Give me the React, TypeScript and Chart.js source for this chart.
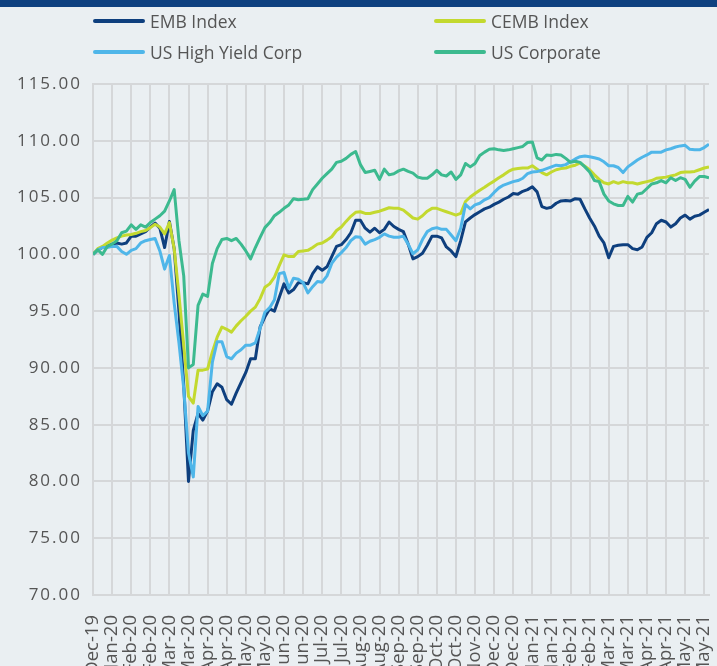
import React, { useEffect, useRef } from "react";
import { Chart, registerables } from "chart.js";

Chart.register(...registerables);

// Tick labels on the x axis (one every ~2 weeks)
const tickLabels = [
  "Dec-19", "Jan-20", "Feb-20", "Feb-20", "Mar-20", "Mar-20", "Apr-20", "Apr-20",
  "May-20", "May-20", "Jun-20", "Jun-20", "Jul-20", "Jul-20", "Aug-20", "Aug-20",
  "Sep-20", "Sep-20", "Oct-20", "Oct-20", "Nov-20", "Dec-20", "Dec-20", "Jan-21",
  "Jan-21", "Feb-21", "Feb-21", "Mar-21", "Mar-21", "Apr-21", "Apr-21", "May-21", "May-21",
];

// number of data points between two tick labels
const POINTS_PER_TICK = 4;

const embIndex = [
  100.0, 100.4, 100.6, 100.7, 100.9, 101.0, 100.9, 101.0, 101.6, 101.6,
  101.8, 102.0, 102.4, 102.75, 102.3, 100.6, 102.9, 100.5, 95.0, 88.5,
  80.0, 84.5, 86.0, 85.4, 86.2, 87.9, 88.6, 88.3, 87.2, 86.8,
  87.8, 88.7, 89.6, 90.8, 90.8, 93.6, 94.5, 95.2, 95.0, 96.2,
  97.4, 96.6, 96.9, 97.5, 97.5, 97.4, 98.3, 98.9, 98.6, 98.9,
  99.8, 100.7, 100.85, 101.3, 101.9, 103.0, 103.0, 102.3, 101.95, 102.3,
  101.9, 102.2, 102.85, 102.45, 102.2, 102.0, 100.9, 99.6, 99.8, 100.1,
  100.8, 101.6, 101.6, 101.45, 100.65, 100.3, 99.8, 101.2, 102.85, 103.2,
  103.5, 103.75, 104.0, 104.15, 104.4, 104.6, 104.85, 105.05, 105.35, 105.3,
  105.55, 105.7, 105.95, 105.5, 104.2, 104.05, 104.15, 104.5, 104.7, 104.75,
  104.7, 104.9, 104.85, 104.0, 103.2, 102.5, 101.6, 101.0, 99.7, 100.7,
  100.8, 100.85, 100.85, 100.5, 100.4, 100.65, 101.5, 101.9, 102.7, 103.0,
  102.85, 102.4, 102.7, 103.2, 103.45, 103.1, 103.35, 103.45, 103.7, 103.95,
];

const cembIndex = [
  100.0, 100.5, 100.7, 101.0, 101.25, 101.45, 101.6, 101.7, 101.75, 101.85,
  102.0, 102.1, 102.35, 102.65, 102.4, 101.8, 102.8, 100.5, 96.4, 92.0,
  87.5, 86.9, 89.8, 89.8, 89.9, 91.4, 92.7, 93.6, 93.4, 93.15,
  93.7, 94.15, 94.55, 95.0, 95.35, 96.1, 97.1, 97.4, 98.0, 99.0,
  99.95, 99.8, 99.8, 100.25, 100.3, 100.35, 100.6, 100.9, 101.0, 101.25,
  101.55, 102.1, 102.4, 102.9, 103.35, 103.7, 103.75, 103.6, 103.6, 103.7,
  103.8, 103.95, 104.1, 104.05, 104.05, 103.9, 103.55, 103.2, 103.1, 103.4,
  103.8, 104.05, 104.05, 103.9, 103.75, 103.6, 103.45, 103.6, 104.65, 105.05,
  105.35, 105.65, 105.9, 106.2, 106.45, 106.75, 107.0, 107.3, 107.5, 107.55,
  107.6, 107.6, 107.8, 107.5, 107.2, 107.0, 107.25, 107.45, 107.55, 107.6,
  107.75, 107.85, 108.05, 107.75, 107.45, 107.0, 106.6, 106.3, 106.2, 106.4,
  106.25, 106.4, 106.3, 106.3, 106.2, 106.3, 106.4, 106.5, 106.7, 106.75,
  106.8, 106.9, 107.0, 107.2, 107.25, 107.25, 107.3, 107.45, 107.6, 107.7,
];

const usHighYieldCorp = [
  100.0, 100.4, 100.6, 100.6, 100.7, 100.7, 100.25, 100.0, 100.35, 100.5,
  101.0, 101.2, 101.3, 101.4, 100.3, 98.7, 99.9, 95.7, 92.2, 88.2,
  82.5, 80.4, 86.6, 85.8, 86.2, 90.5, 92.3, 92.3, 91.0, 90.8,
  91.3, 91.6, 92.0, 92.0, 92.2, 93.5, 94.9, 95.3, 96.0, 98.3,
  98.4, 97.0, 97.9, 97.8, 97.5, 96.6, 97.15, 97.6, 97.55, 98.1,
  99.2, 99.75, 100.15, 100.6, 101.2, 101.55, 101.5, 100.9, 101.15, 101.3,
  101.5, 101.8, 101.6, 101.5, 101.5, 101.6, 100.9, 100.05, 100.4, 101.3,
  102.0, 102.25, 102.35, 102.2, 102.2, 101.7, 101.2, 102.3, 104.4, 104.0,
  104.35, 104.5, 104.8, 105.0, 105.45, 105.85, 106.1, 106.25, 106.4, 106.5,
  106.7, 107.1, 107.25, 107.3, 107.4, 107.55, 107.7, 107.85, 107.8, 107.9,
  108.15, 108.4, 108.6, 108.65, 108.6, 108.5, 108.4, 108.15, 107.8, 107.8,
  107.65, 107.2, 107.7, 108.0, 108.3, 108.55, 108.75, 109.0, 109.0, 109.0,
  109.2, 109.3, 109.45, 109.55, 109.6, 109.25, 109.2, 109.2, 109.4, 109.7,
];

const usCorporate = [
  100.0, 100.4, 100.0, 100.7, 100.9, 101.2, 101.9, 102.05, 102.6, 102.2,
  102.6, 102.4, 102.8, 103.1, 103.4, 103.8, 104.7, 105.7, 101.2, 98.1,
  90.0, 90.3, 95.5, 96.5, 96.3, 99.2, 100.5, 101.3, 101.4, 101.2,
  101.4, 100.9, 100.3, 99.6, 100.6, 101.5, 102.35, 102.8, 103.4, 103.7,
  104.05, 104.35, 104.9, 104.8, 104.85, 104.9, 105.7, 106.2, 106.7, 107.1,
  107.5, 108.1, 108.2, 108.45, 108.8, 109.05, 107.9, 107.2, 107.3, 107.4,
  106.6, 107.5, 107.0, 107.1, 107.35, 107.5, 107.3, 107.15, 106.8, 106.7,
  106.7, 107.0, 107.4, 107.0, 106.9, 107.25, 106.6, 107.0, 108.0, 107.7,
  108.0, 108.7, 109.0, 109.25, 109.3, 109.2, 109.15, 109.2, 109.3, 109.4,
  109.5, 109.85, 109.9, 108.5, 108.3, 108.75, 108.7, 108.8, 108.75, 108.45,
  108.1, 108.2, 108.1, 107.7, 107.25, 106.5, 106.4, 105.3, 104.7, 104.45,
  104.3, 104.3, 105.1, 104.6, 105.3, 105.4, 105.8, 106.2, 106.3, 106.5,
  106.3, 106.75, 106.5, 106.75, 106.6, 105.9, 106.45, 106.85, 106.85, 106.75,
];

const seriesNames = ["EMB Index", "CEMB Index", "US High Yield Corp", "US Corporate"];
const seriesColors = ["#0e3f7e", "#c3d92f", "#4fb6e9", "#3cba8f"];
const seriesValues = [embIndex, cembIndex, usHighYieldCorp, usCorporate];

const yMin = 70;
const yMax = 115;
const yStep = 5;

const BG = "#eaeff2";
const GRID = "#d5d7d9";
const TEXT = "#555555";
const CANVAS_W = 717;
const CANVAS_H = 700;

// grid lines drawn at the scale's own ticks, under the series
const gridPlugin = {
  id: "gridLines",
  beforeDatasetsDraw(chart: any) {
    const { ctx, chartArea, scales } = chart;
    ctx.save();
    ctx.globalCompositeOperation = "source-over";
    ctx.globalAlpha = 1;
    ctx.setLineDash([]);
    ctx.lineDashOffset = 0;
    ctx.strokeStyle = GRID;
    ctx.lineWidth = 2;
    ctx.beginPath();
    scales.x.ticks.forEach((t: any) => {
      const px = Math.round(scales.x.getPixelForValue(t.value));
      ctx.moveTo(px, chartArea.top);
      ctx.lineTo(px, chartArea.bottom);
    });
    scales.y.ticks.forEach((t: any) => {
      const py = Math.round(scales.y.getPixelForValue(t.value));
      ctx.moveTo(chartArea.left, py);
      ctx.lineTo(chartArea.right, py);
    });
    ctx.stroke();
    ctx.restore();
  },
};

// y tick labels (drawn after the datasets) get letter spacing
const spacingPlugin = {
  id: "letterSpacing",
  beforeDraw(chart: any) {
    chart.ctx.letterSpacing = "0px";
  },
  afterDatasetsDraw(chart: any) {
    chart.ctx.letterSpacing = "2px";
  },
  afterDraw(chart: any) {
    chart.ctx.letterSpacing = "0px";
  },
};

export default function App() {
  const canvasRef = useRef<HTMLCanvasElement | null>(null);

  useEffect(() => {
    const canvas = canvasRef.current;
    if (!canvas) return;
    const lastX = (embIndex.length - 1) / POINTS_PER_TICK;
    const chart = new Chart(canvas, {
      type: "line",
      data: {
        datasets: seriesValues.map((vals, k) => ({
          label: seriesNames[k],
          data: vals.map((v, i) => ({ x: i / POINTS_PER_TICK, y: v })),
          borderColor: seriesColors[k],
          backgroundColor: seriesColors[k],
          borderWidth: 3,
          pointRadius: 0,
          tension: 0,
          fill: false,
          borderJoinStyle: "round" as const,
          order: seriesValues.length - k,
        })),
      },
      plugins: [spacingPlugin, gridPlugin],
      options: {
        responsive: false,
        animation: false,
        devicePixelRatio: 1,
        layout: { padding: { left: 0, right: 8, top: 84, bottom: 0 } },
        plugins: {
          legend: { display: false },
          tooltip: { enabled: false },
        },
        scales: {
          x: {
            type: "linear",
            min: 0,
            max: lastX,
            afterBuildTicks: (axis: any) => {
              axis.ticks = tickLabels.map((_, i) => ({ value: i }));
            },
            afterFit: (s: any) => {
              s.height = CANVAS_H - 595;
              s.paddingLeft = 0;
              s.paddingRight = 0;
            },
            grid: { display: false },
            border: { color: GRID, width: 2 },
            ticks: {
              autoSkip: false,
              minRotation: 90,
              maxRotation: 90,
              padding: 12,
              color: TEXT,
              font: { family: "'Open Sans', sans-serif", size: 18.5 },
              callback: (_v: any, i: number) => tickLabels[i],
            },
          },
          y: {
            min: yMin,
            max: yMax,
            afterFit: (s: any) => {
              s.width = 93;
            },
            grid: { display: false },
            border: { color: GRID, width: 2 },
            ticks: {
              z: 1,
              stepSize: yStep,
              padding: 3,
              color: TEXT,
              font: { family: "'Open Sans', sans-serif", size: 17 },
              callback: (v: any) => Number(v).toFixed(2),
            },
          },
        },
      },
    });
    return () => chart.destroy();
  }, []);

  const legendPos = [
    { left: 93, top: 21 },
    { left: 434, top: 21 },
    { left: 93, top: 52 },
    { left: 434, top: 52 },
  ];

  return (
    <div
      style={{
        position: "fixed",
        left: 0,
        top: 0,
        width: CANVAS_W,
        height: 666,
        overflow: "hidden",
        background: BG,
      }}
    >
      <canvas
        ref={canvasRef}
        width={CANVAS_W}
        height={CANVAS_H}
        style={{ position: "absolute", left: 0, top: 0, width: CANVAS_W, height: CANVAS_H }}
      />
      <div style={{ position: "absolute", left: 0, top: 0, width: CANVAS_W, height: 7, background: "#0f4180" }} />
      {seriesNames.map((name, k) => (
        <div
          key={name}
          style={{
            position: "absolute",
            left: legendPos[k].left,
            top: legendPos[k].top - 13,
            height: 26,
            display: "flex",
            alignItems: "center",
            fontFamily: "'Open Sans', sans-serif",
            fontSize: 17.5,
            color: TEXT,
            whiteSpace: "nowrap",
          }}
        >
          <span
            style={{
              display: "inline-block",
              width: 52,
              height: 4,
              borderRadius: 2,
              background: seriesColors[k],
              marginRight: 5,
            }}
          />
          <span>{name}</span>
        </div>
      ))}
    </div>
  );
}
